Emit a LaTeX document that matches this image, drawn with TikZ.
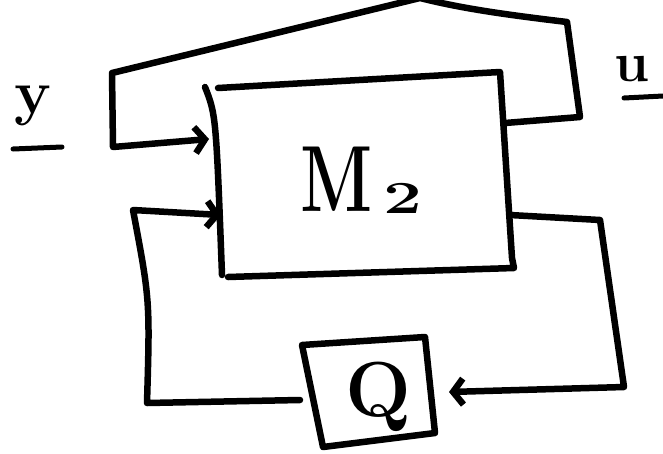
\documentclass[tikz,border=0pt]{standalone}
\usetikzlibrary{arrows.meta}
\begin{document}
\begin{tikzpicture}[x=1pt,y=-1pt,
  pen/.style={line width=6.5pt, line cap=round, line join=round},
  barb/.style={-{Straight Barb[length=10pt,width=26pt]}},
  lbl/.style={inner sep=0pt},
  bigm/.style={font=\fontsize{94pt}{98pt}\selectfont\bfseries},
  subtwo/.style={font=\fontsize{46pt}{50pt}\selectfont\bfseries},
  bigq/.style={font=\fontsize{78pt}{82pt}\selectfont\bfseries},
  ylbl/.style={font=\fontsize{62pt}{66pt}\selectfont\bfseries},
  ulbl/.style={font=\fontsize{56pt}{60pt}\selectfont\bfseries}]
\useasboundingbox (0,0) rectangle (663,453);
% named points of the sketch
\coordinate (mL1) at (205,87);
\coordinate (mL2) at (222,275);
\coordinate (mTL) at (218,88);
\coordinate (mTR) at (500,72);
\coordinate (mBRa) at (512,258);
\coordinate (mBR) at (514,268);
\coordinate (mBL) at (228,277);
\coordinate (mFb) at (505,123);
\coordinate (mOut) at (510,215);
\coordinate (mIn1) at (209,139);
\coordinate (mIn2) at (221,215);
\coordinate (qTL) at (302,345);
\coordinate (qTR) at (425,337);
\coordinate (qBR) at (435,433);
\coordinate (qBL) at (323,447);
\coordinate (qL) at (300,400);
\coordinate (qR) at (449,392);
% M2 box
\draw[pen] (mL1) .. controls (216,115) .. (mL2);
\draw[pen] (mTL) -- (mTR) -- (mBRa) -- (mBR) -- (mBL);
\node[lbl,bigm] (mtxt) at (337,179) {\scalebox{0.72}[1]{M}};
\node[lbl,subtwo] (mtwo) at (403,198) {\scalebox{1.5}[1]{2}};
% Q box
\draw[pen] (qTL) -- (qTR) -- (qBR) -- (qBL) -- cycle;
\node[lbl,bigq] (qq) at (378,397) {Q};
% top loop u -> y input
\draw[pen,barb] (mFb) -- (580,117) -- (567,22) .. controls (500,14) and (460,8) .. (420,-2) -- (112,73) -- (113,147) -- (mIn1);
% output -> Q
\draw[pen,barb] (mOut) -- (600,220) -- (624,387) -- (qR);
% Q -> second input
\draw[pen,barb] (qL) -- (147,403) .. controls (150,300) .. (133,210) -- (mIn2);
% labels
\node[lbl,ylbl] (ylab) at (33,106) {y};
\draw[line width=5pt,line cap=round] (13,149) -- (62,147);
\node[lbl,ulbl] (ulab) at (632,69) {u};
\draw[line width=5pt,line cap=round] (624,98) -- (663,96);
\end{tikzpicture}
\end{document}
